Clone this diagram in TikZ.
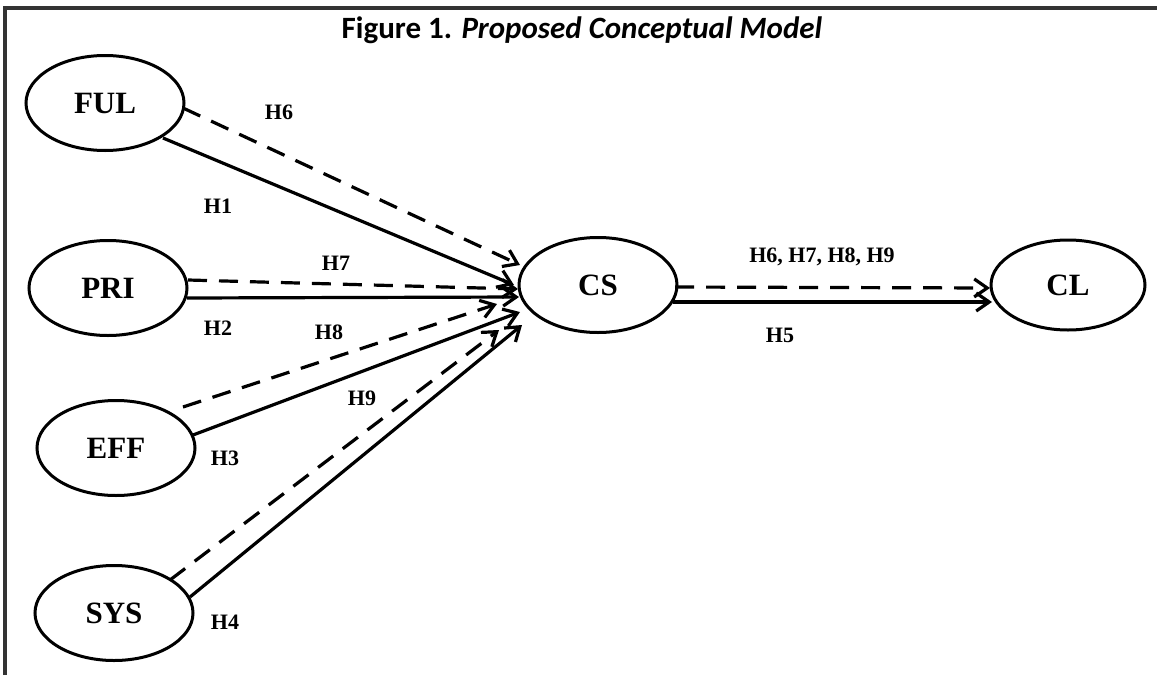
\documentclass[tikz,border=0pt]{standalone}
\usepackage{fontspec}
\setmainfont{Liberation Serif}
\newfontfamily\titlefont{Carlito}
\usetikzlibrary{arrows.meta,shapes.geometric,calc}

\begin{document}
\begin{tikzpicture}[
  x=1pt, y=-1pt,
  latent/.style={draw, ellipse, line width=3pt, minimum width=158pt, minimum height=95pt,
    inner sep=0pt, font=\fontsize{31}{36}\selectfont\bfseries},
  hyp/.style={inner sep=0pt, font=\fontsize{22}{26}\selectfont\bfseries},
  link/.style={line width=3.2pt, -{Straight Barb[length=13pt,width=18pt]}},
  medlink/.style={link, dash pattern=on 19pt off 12pt}]
  \useasboundingbox (0,0) rectangle (1157,675);
  % frame and caption
  \draw[line width=3.5pt, black!80] (5,675) -- (5,8) -- (1157,8);
  \node[font=\titlefont\fontsize{31}{36}\selectfont\bfseries] (title) at (582,30)
    {Figure 1. \textit{Proposed Conceptual Model}};
  % constructs
  \node[latent] (FUL) at (105,103) {FUL};
  \node[latent] (PRI) at (108,288) {PRI};
  \node[latent] (EFF) at (116,448) {EFF};
  \node[latent] (SYS) at (114,613) {SYS};
  \node[latent] (CS) at (598,285) {CS};
  \node[latent, minimum width=154pt, minimum height=90pt] (CL) at (1068,285) {CL};
  % direct effects
  \draw[link] ($(FUL)+(58,35)$) -- ($(CS)+(-84,0)$);
  \draw[link] ($(PRI)+(79,10)$) -- ($(CS)+(-79,12)$);
  \draw[link] ($(EFF)+(77,-13)$) -- ($(CS)+(-78,27)$);
  \draw[link] ($(SYS)+(76,-16)$) -- ($(CS)+(-76,40)$);
  \draw[link] ($(CS)+(75,17)$) -- ($(CL)+(-76,17)$);
  % mediated effects
  \draw[medlink] ($(FUL)+(78,5)$) -- ($(CS)+(-78,-20)$);
  \draw[medlink] ($(PRI)+(80,-8)$) -- ($(CS)+(-80,4)$);
  \draw[medlink] ($(EFF)+(67,-41)$) -- ($(CS)+(-101,19)$);
  \draw[medlink] ($(SYS)+(56,-33)$) -- ($(CS)+(-99,45)$);
  \draw[medlink] ($(CS)+(77,2)$) -- ($(CL)+(-78,3)$);
  % hypotheses
  \node[hyp] (h6) at (279,112) {H6};
  \node[hyp] (h1) at (218,206) {H1};
  \node[hyp] (h7) at (336,263) {H7};
  \node[hyp] (h2) at (218,328) {H2};
  \node[hyp] (h8) at (329,332) {H8};
  \node[hyp] (h9) at (362,398) {H9};
  \node[hyp] (h3) at (225,458) {H3};
  \node[hyp] (h4) at (225,622) {H4};
  \node[hyp] (hmed) at (822,257) {H6, H7, H8, H9};
  \node[hyp] (h5) at (780,335) {H5};
\end{tikzpicture}
\end{document}
